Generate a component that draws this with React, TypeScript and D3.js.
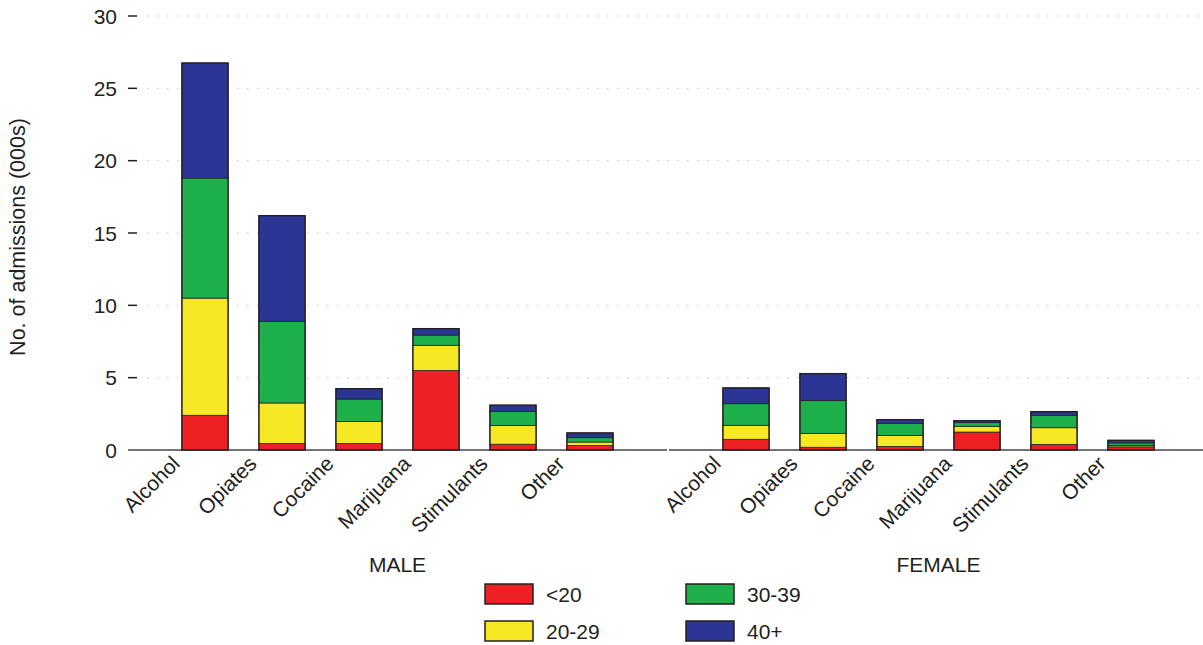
import React from "react";
import * as d3 from "d3";

const drugs = ["Alcohol", "Opiates", "Cocaine", "Marijuana", "Stimulants", "Other"];
const ageGroups = ["<20", "20-29", "30-39", "40+"];
const ageColors = ["#ED2024", "#F7E824", "#1DB04B", "#2B3594"];
const yTicks = [0, 5, 10, 15, 20, 25, 30];

// values in thousands, per drug, per age group (<20, 20-29, 30-39, 40+)
const maleValues = [
  [2.4, 8.1, 8.3, 7.95],
  [0.45, 2.8, 5.65, 7.3],
  [0.45, 1.52, 1.55, 0.72],
  [5.5, 1.74, 0.7, 0.45],
  [0.4, 1.3, 0.96, 0.44],
  [0.32, 0.23, 0.3, 0.33],
];
const femaleValues = [
  [0.74, 0.97, 1.49, 1.09],
  [0.19, 0.96, 2.26, 1.87],
  [0.25, 0.76, 0.83, 0.26],
  [1.24, 0.4, 0.25, 0.14],
  [0.39, 1.15, 0.86, 0.25],
  [0.22, 0.1, 0.17, 0.18],
];

const panels = [
  { name: "MALE", values: maleValues },
  { name: "FEMALE", values: femaleValues },
];

const W = 1203;
const H = 645;
const INK = "#231F20";
const FONT = "'Liberation Sans', Arial, Helvetica, sans-serif";

export default function App() {
  const y = d3.scaleLinear().domain([0, 30]).range([450, 16]);
  const panelRanges: [number, number][] = [
    [128, 667],
    [669, 1208],
  ];
  const stack = d3.stack<number[]>().keys(ageGroups.map((_, i) => String(i))).value((d, k) => d[+k]);

  return (
    <svg
      width={W}
      height={H}
      style={{ position: "absolute", left: 0, top: 0, background: "#fff" }}
      fontFamily={FONT}
    >
      {/* gridlines */}
      {yTicks.filter((t) => t > 0).map((t) => (
        <line
          key={"g" + t}
          x1={147}
          x2={1203}
          y1={y(t)}
          y2={y(t)}
          stroke="#BDBDBD"
          strokeWidth={1}
          strokeDasharray="1.5,8.5"
        />
      ))}
      {/* y ticks */}
      {yTicks.map((t) => (
        <g key={"t" + t}>
          {t > 0 && <line x1={128} x2={137} y1={y(t)} y2={y(t)} stroke={INK} strokeWidth={1.5} />}
          <text x={117} y={y(t)} dy="0.36em" textAnchor="end" fontSize={21} fill={INK}>
            {t}
          </text>
        </g>
      ))}
      <text
        transform={`translate(25,${y(15) + 4}) rotate(-90)`}
        textAnchor="middle"
        fontSize={21.5}
        fill={INK}
      >
        No. of admissions (000s)
      </text>

      {panels.map((p, pi) => {
        const x = d3
          .scaleBand<string>()
          .domain(drugs)
          .range(panelRanges[pi])
          .paddingInner(0.4)
          .paddingOuter(0.7);
        const series = stack(p.values);
        const cx0 = x(drugs[0])! + x.bandwidth() / 2;
        const cx1 = x(drugs[drugs.length - 1])! + x.bandwidth() / 2;
        const lineEnd = pi === 0 ? panelRanges[0][1] : W;
        return (
          <g key={p.name}>
            <line
              x1={panelRanges[pi][0]}
              x2={lineEnd}
              y1={y(0)}
              y2={y(0)}
              stroke="#444"
              strokeWidth={1.5}
            />
            {series.map((s, si) => (
              <g key={si}>
                {s.map((d, di) => (
                  <rect
                    key={di}
                    x={x(drugs[di])}
                    y={y(d[1])}
                    width={x.bandwidth()}
                    height={y(d[0]) - y(d[1])}
                    fill={ageColors[si]}
                    stroke={INK}
                    strokeWidth={0.75}
                  />
                ))}
              </g>
            ))}
            {/* outer outline of each stacked bar */}
            {p.values.map((v, di) => (
              <rect
                key={"o" + di}
                x={x(drugs[di])}
                y={y(d3.sum(v))}
                width={x.bandwidth()}
                height={y(0) - y(d3.sum(v))}
                fill="none"
                stroke={INK}
                strokeWidth={1.3}
              />
            ))}
            {drugs.map((dname) => {
              const cx = x(dname)! + x.bandwidth() / 2;
              return (
                <text
                  key={dname}
                  transform={`translate(${cx - 24},${465}) rotate(-45)`}
                  textAnchor="end"
                  fontSize={21}
                  fill={INK}
                >
                  {dname}
                </text>
              );
            })}
            <text x={(cx0 + cx1) / 2} y={572} textAnchor="middle" fontSize={21} fill={INK}>
              {p.name}
            </text>
          </g>
        );
      })}

      {/* legend */}
      {ageGroups.map((g, i) => {
        const col = Math.floor(i / 2);
        const row = i % 2;
        const lx = 485 + col * 201;
        const ly = 584 + row * 37;
        return (
          <g key={g}>
            <rect x={lx} y={ly} width={48} height={20} fill={ageColors[i]} stroke={INK} strokeWidth={1.5} />
            <text x={lx + 61} y={ly + 10} dy="0.36em" fontSize={21} fill={INK}>
              {g}
            </text>
          </g>
        );
      })}
    </svg>
  );
}
